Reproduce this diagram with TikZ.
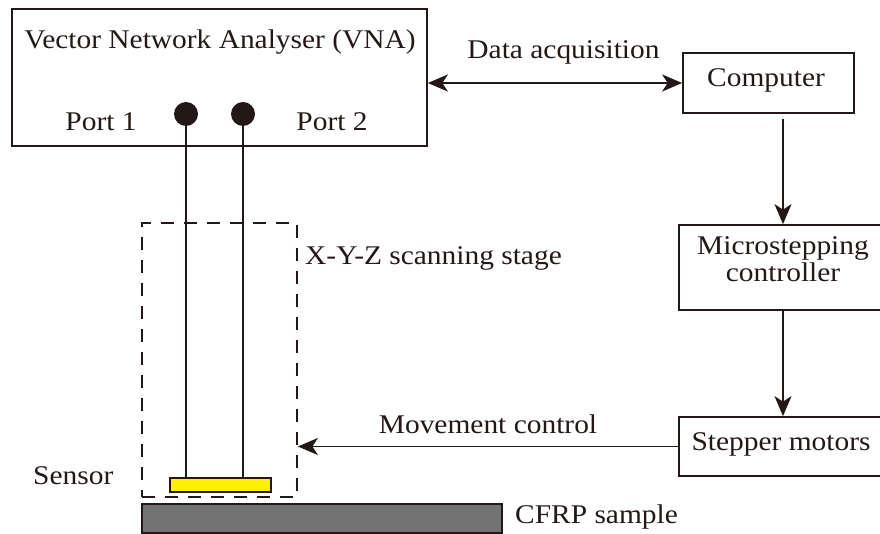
\documentclass[tikz,border=0pt]{standalone}
\usepackage{fontspec}
\setmainfont{Liberation Serif}[FakeStretch=1.09]
\usetikzlibrary{arrows.meta,calc}
\definecolor{ink}{HTML}{231815}
\definecolor{sensorfill}{HTML}{FFF000}
\definecolor{cfrpfill}{HTML}{737373}
\begin{document}
\begin{tikzpicture}[x=1pt,y=-1pt,
  every node/.style={text=ink},
  txt/.style={inner sep=0pt,anchor=base,font=\fontsize{27}{28}\selectfont},
  box/.style={draw=ink,line width=1.7pt,inner sep=0pt},
  arr/.style={draw=ink,line width=1.7pt,-{Stealth[length=20pt,width=17pt,inset=5.5pt]}},
  darr/.style={draw=ink,line width=1.7pt,{Stealth[length=20pt,width=17pt,inset=5.5pt]}-{Stealth[length=20pt,width=17pt,inset=5.5pt]}},
  wire/.style={draw=ink,line width=1.6pt},
  port/.style={circle,fill=ink,inner sep=0pt,minimum size=24pt}]
\useasboundingbox (0,0) rectangle (880,534);
\clip (0,0) rectangle (880,534);
% boxes
\node[box,minimum width=415pt,minimum height=137pt] (vna) at (219.5,77.5) {};
\node[box,minimum width=171pt,minimum height=60pt] (comp) at (768.5,83) {};
\node[box,minimum width=208pt,minimum height=85pt] (micro) at (783,267.5) {};
\node[box,minimum width=208pt,minimum height=59pt] (stepbox) at (783,446.5) {};
\node[draw=ink,line width=1.8pt,dash pattern=on 13pt off 10pt,inner sep=0pt,minimum width=155pt,minimum height=274pt] (stage) at (219.5,360) {};
\node[draw=ink,line width=1.4pt,fill=sensorfill,inner sep=0pt,minimum width=101pt,minimum height=14pt] (sensor) at (220.5,485) {};
\node[draw=ink,line width=1.4pt,fill=cfrpfill,inner sep=0pt,minimum width=360pt,minimum height=29pt] (cfrp) at (322,518.5) {};
% ports and wires
\coordinate (p1c) at (186,114);
\coordinate (p2c) at (243,114);
\draw[wire] (p1c) -- (p1c |- sensor.north);
\draw[wire] (p2c) -- (p2c |- sensor.north);
\node[port] (p1) at (p1c) {};
\node[port] (p2) at (p2c) {};
% texts
\node[txt] (tvna) at (220,49) {Vector Network Analyser (VNA)};
\node[txt] (tp1) at (101,131) {Port 1};
\node[txt] (tp2) at (332,131) {Port 2};
\node[txt] (tdata) at (563.5,59) {Data acquisition};
\node[txt] (tcomp) at (766,87) {Computer};
\node[txt,anchor=base west] (tstage) at (305,265) {X-Y-Z scanning stage};
\node[txt] (tmicro1) at (783,255) {Microstepping};
\node[txt] (tmicro2) at (783,282) {controller};
\node[txt] (tstep) at (781,450) {Stepper motors};
\node[txt] (tmove) at (488,433) {Movement control};
\node[txt,anchor=base west] (tsensor) at (33,484) {Sensor};
\node[txt,anchor=base west] (tcfrp) at (515,523) {CFRP sample};
% connectors
\draw[darr] (comp.west) -- (comp.west -| vna.east);
\draw[arr] ($(comp.south -| micro.north)+(0,5)$) -- (micro.north);
\draw[arr] (micro.south) -- (stepbox.north);
\draw[arr] (stepbox.west) -- (stepbox.west -| stage.east);
\end{tikzpicture}
\end{document}
